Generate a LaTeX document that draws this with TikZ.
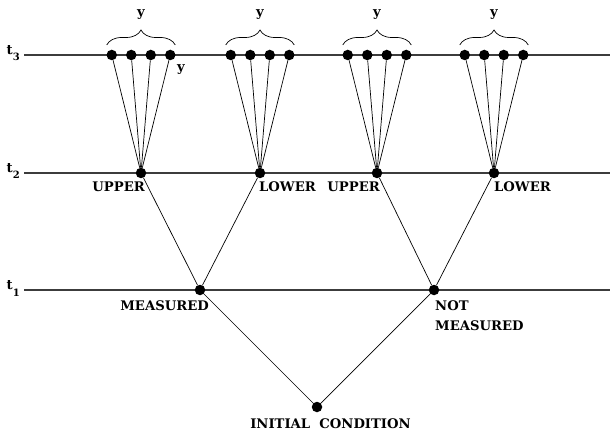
\documentclass[tikz,border=0pt]{standalone}
\usepackage{amsmath,amssymb}
\usepackage{fontspec}
\setmainfont{DejaVu Serif}
\usepackage{xcolor}
\usepackage{tikz}
\usetikzlibrary{calc,decorations.pathreplacing}
\definecolor{inkc}{HTML}{000000}
\definecolor{levc}{HTML}{3C3C3C}
\tikzset{
  dot/.style={circle,fill=inkc,inner sep=0pt,minimum size=10.5pt},
  lbl/.style={font=\fontsize{13.2}{20}\selectfont\bfseries,inner sep=0pt,align=left},
  lev/.style={levc,line width=1.1pt},
  ln/.style={inkc,line width=0.7pt},
  br/.style={decorate,decoration={brace,amplitude=15pt},line width=0.7pt}
}
\begin{document}
\begin{tikzpicture}[x=1pt,y=-1pt]
\useasboundingbox (0,0) rectangle (610,430);
% time levels
\foreach \t/\h in {3/55,2/173,1/290}{
  \node[lbl,anchor=base east] (t\t) at (20,\h) {t\raisebox{-6pt}{\fontsize{10}{10}\selectfont\t}};
  \coordinate (s\t) at (24,\h);
  \coordinate (e\t) at (610,\h);
  \draw[lev] (s\t) -- (e\t);
}
% tree
\node[dot] (i0) at (317,407) {};
\node[dot] (m) at (200,290) {};
\node[dot] (n) at (434,290) {};
\node[dot] (m1) at (141,173) {};
\node[dot] (m2) at (260,173) {};
\node[dot] (n1) at (377,173) {};
\node[dot] (n2) at (494,173) {};
\draw[ln] (i0) -- (m) (i0) -- (n);
\draw[ln] (m) -- (m1) (m) -- (m2) (n) -- (n1) (n) -- (n2);
\foreach \g/\x in {m1/141,m2/260,n1/377,n2/494}{
  \foreach \k/\o in {1/-29.25,2/-9.75,3/9.75,4/29.25}{
    \node[dot] (\g-\k) at (\x+\o,55) {};
    \draw[ln] (\g) -- (\g-\k);
  }
  \draw[br] ($(\g-1)+(-5,-10)$) -- ($(\g-4)+(5,-10)$);
  \node[lbl,anchor=base] (\g-y) at (\x,17) {y};
}
\node[lbl,anchor=base] (ylab) at (181,71.5) {y};
% labels
\node[lbl,anchor=base east] (m1t) at (145,192) {UPPER};
\node[lbl,anchor=base west] (m2t) at (259,192) {LOWER};
\node[lbl,anchor=base east] (n1t) at (380,192) {UPPER};
\node[lbl,anchor=base west] (n2t) at (494,192) {LOWER};
\node[lbl,anchor=base east] (mt) at (209,310) {MEASURED};
\node[lbl,anchor=north west] (nt) at (435,300.5) {NOT\\MEASURED};
\node[lbl,anchor=base] (i0t) at (330.5,428) {INITIAL\ \ CONDITION};
\end{tikzpicture}
\end{document}
